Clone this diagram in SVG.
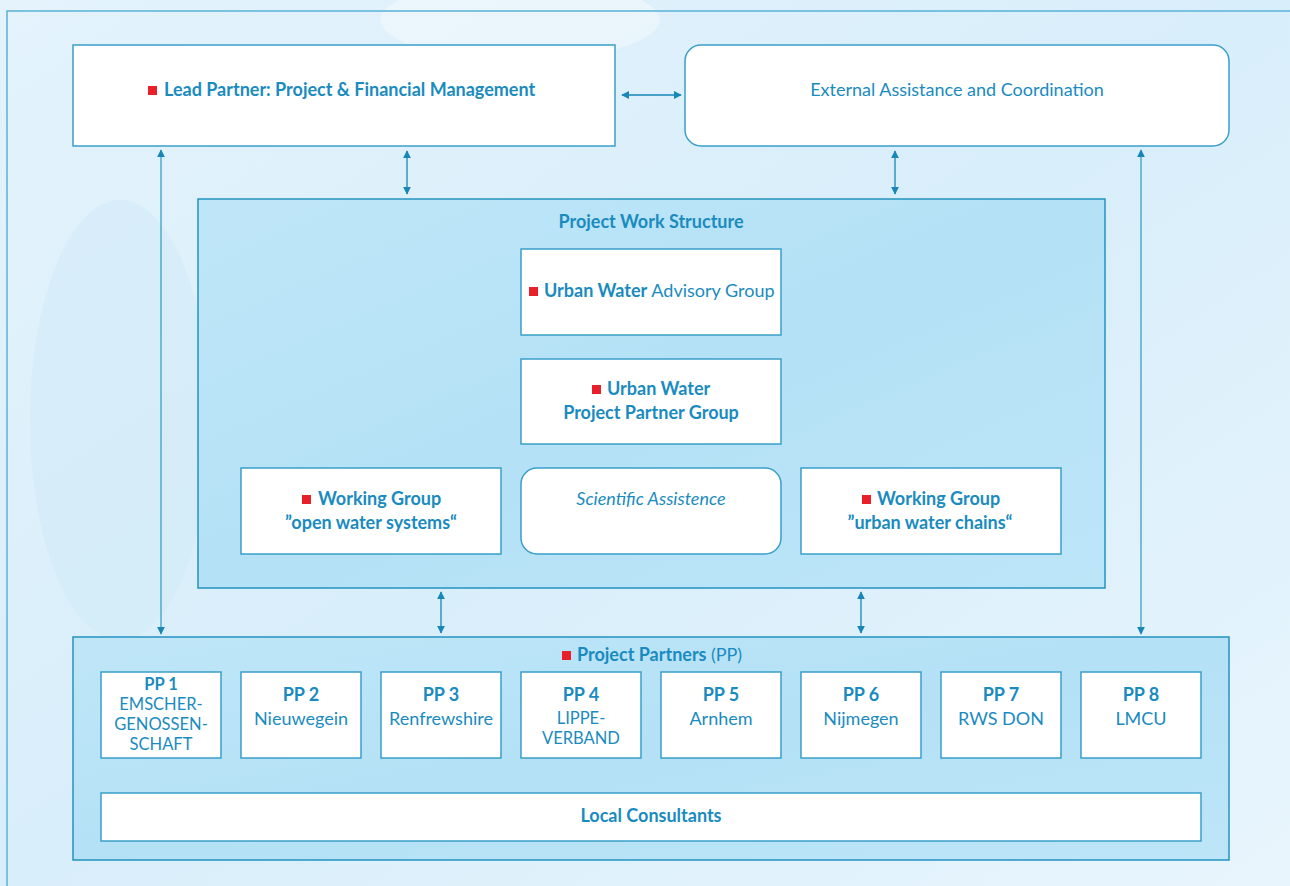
<svg xmlns="http://www.w3.org/2000/svg" width="1290" height="886" viewBox="0 0 1290 886">
<defs>
<linearGradient id="bg" x1="0" y1="0" x2="1" y2="1">
<stop offset="0" stop-color="#e4f3fc"/>
<stop offset="0.5" stop-color="#d8eefa"/>
<stop offset="1" stop-color="#e8f5fd"/>
</linearGradient>
<linearGradient id="inner" x1="0" y1="0" x2="1" y2="1">
<stop offset="0" stop-color="#bfe6f8"/>
<stop offset="0.5" stop-color="#b4e1f6"/>
<stop offset="1" stop-color="#bde5f8"/>
</linearGradient>
<marker id="ah" viewBox="0 0 10 10" refX="9" refY="5" markerWidth="8" markerHeight="8" markerUnits="userSpaceOnUse" orient="auto-start-reverse">
<path d="M0,0 L10,5 L0,10 z" fill="#1787b8"/>
</marker>
<style>
.box{fill:#ffffff;stroke:#3a9fc9;stroke-width:1.5}
.grp{fill:url(#inner);stroke:#2492c0;stroke-width:1.5}
.t{font-family:Lato,"Open Sans","Liberation Sans",sans-serif;font-size:18px;fill:#1a8bbf}
.s{font-size:16.5px}
.b{font-weight:700}
.r{font-weight:400}
.mid{text-anchor:middle}
.sq{fill:#e8202a}
.c{stroke:#1787b8;stroke-width:1.3;fill:none;marker-start:url(#ah);marker-end:url(#ah)}
.c1{stroke:#3a9fc9;stroke-width:1.3;fill:none;marker-start:url(#ah);marker-end:url(#ah)}
</style>
</defs>
<rect x="0" y="0" width="1290" height="886" fill="url(#bg)"/>
<ellipse cx="120" cy="420" rx="90" ry="220" fill="#cfe9f7" opacity="0.5"/>
<ellipse cx="520" cy="20" rx="140" ry="40" fill="#f2f9fe" opacity="0.6"/>
<rect x="7" y="11" width="1300" height="900" fill="none" stroke="#5ab3d6" stroke-width="1.5"/>

<g id="connectors">
<line class="c" x1="622" y1="95" x2="681" y2="95"/>
<line class="c1" x1="161" y1="150" x2="161" y2="634"/>
<line class="c" x1="407" y1="151" x2="407" y2="194"/>
<line class="c" x1="895" y1="151" x2="895" y2="194"/>
<line class="c1" x1="1141" y1="150" x2="1141" y2="634"/>
<line class="c" x1="441" y1="592" x2="441" y2="633"/>
<line class="c" x1="861" y1="592" x2="861" y2="633"/>
<line class="c" x1="161" y1="764" x2="161" y2="790"/>
<line class="c" x1="301" y1="764" x2="301" y2="790"/>
<line class="c" x1="441" y1="764" x2="441" y2="790"/>
<line class="c" x1="581" y1="764" x2="581" y2="790"/>
<line class="c" x1="721" y1="764" x2="721" y2="790"/>
<line class="c" x1="861" y1="764" x2="861" y2="790"/>
<line class="c" x1="1001" y1="764" x2="1001" y2="790"/>
<line class="c" x1="1141" y1="764" x2="1141" y2="790"/>
</g>

<g id="lead-partner">
<rect class="box" x="73" y="45" width="542" height="101"/>
<rect class="sq" x="148" y="86" width="9" height="9"/>
<text class="t b" x="164" y="96">Lead Partner: Project &amp; Financial Management</text>
</g>

<g id="external-assistance">
<rect class="box" x="685" y="45" width="544" height="101" rx="16"/>
<text class="t r mid" x="957" y="96">External Assistance and Coordination</text>
</g>

<g id="project-work-structure">
<rect class="grp" x="198" y="199" width="907" height="389"/>
<text class="t b mid" x="651" y="228">Project Work Structure</text>
</g>

<g id="advisory-group">
<rect class="box" x="521" y="249" width="260" height="86"/>
<rect class="sq" x="529" y="287" width="9" height="9"/>
<text class="t b" x="544" y="297">Urban Water <tspan font-weight="400">Advisory Group</tspan></text>
</g>

<g id="partner-group">
<rect class="box" x="521" y="359" width="260" height="85"/>
<rect class="sq" x="592" y="385" width="9" height="9"/>
<text class="t b" x="607" y="395">Urban Water</text>
<text class="t b mid" x="651" y="419">Project Partner Group</text>
</g>

<g id="wg-open-water">
<rect class="box" x="241" y="468" width="260" height="86"/>
<rect class="sq" x="302" y="495" width="9" height="9"/>
<text class="t b" x="318" y="505">Working Group</text>
<text class="t b mid" x="371" y="529">”open water systems“</text>
</g>

<g id="scientific-assistence">
<rect class="box" x="521" y="468" width="260" height="86" rx="16"/>
<text class="t r mid" x="651" y="505" font-style="italic">Scientific Assistence</text>
</g>

<g id="wg-urban-water">
<rect class="box" x="801" y="468" width="260" height="86"/>
<rect class="sq" x="862" y="495" width="9" height="9"/>
<text class="t b" x="877" y="505">Working Group</text>
<text class="t b mid" x="930" y="529">”urban water chains“</text>
</g>

<g id="project-partners">
<rect class="grp" x="73" y="637" width="1156" height="223"/>
<rect class="sq" x="562" y="651" width="9" height="9"/>
<text class="t b" x="577" y="661">Project Partners <tspan font-weight="400">(PP)</tspan></text>
</g>

<g id="pp1">
<rect class="box" x="101" y="672" width="120" height="86"/>
<text class="t s b mid" x="161" y="690">PP 1</text>
<text class="t s r mid" x="161" y="710">EMSCHER-</text>
<text class="t s r mid" x="161" y="730">GENOSSEN-</text>
<text class="t s r mid" x="161" y="750">SCHAFT</text>
</g>
<g id="pp2">
<rect class="box" x="241" y="672" width="120" height="86"/>
<text class="t b mid" x="301" y="701">PP 2</text>
<text class="t r mid" x="301" y="725">Nieuwegein</text>
</g>
<g id="pp3">
<rect class="box" x="381" y="672" width="120" height="86"/>
<text class="t b mid" x="441" y="701">PP 3</text>
<text class="t r mid" x="441" y="725">Renfrewshire</text>
</g>
<g id="pp4">
<rect class="box" x="521" y="672" width="120" height="86"/>
<text class="t b mid" x="581" y="701">PP 4</text>
<text class="t s r mid" x="581" y="724">LIPPE-</text>
<text class="t s r mid" x="581" y="744">VERBAND</text>
</g>
<g id="pp5">
<rect class="box" x="661" y="672" width="120" height="86"/>
<text class="t b mid" x="721" y="701">PP 5</text>
<text class="t r mid" x="721" y="725">Arnhem</text>
</g>
<g id="pp6">
<rect class="box" x="801" y="672" width="120" height="86"/>
<text class="t b mid" x="861" y="701">PP 6</text>
<text class="t r mid" x="861" y="725">Nijmegen</text>
</g>
<g id="pp7">
<rect class="box" x="941" y="672" width="120" height="86"/>
<text class="t b mid" x="1001" y="701">PP 7</text>
<text class="t r mid" x="1001" y="725">RWS DON</text>
</g>
<g id="pp8">
<rect class="box" x="1081" y="672" width="120" height="86"/>
<text class="t b mid" x="1141" y="701">PP 8</text>
<text class="t r mid" x="1141" y="725">LMCU</text>
</g>

<g id="local-consultants">
<rect class="box" x="101" y="793" width="1100" height="48"/>
<text class="t b mid" x="651" y="822">Local Consultants</text>
</g>
</svg>
